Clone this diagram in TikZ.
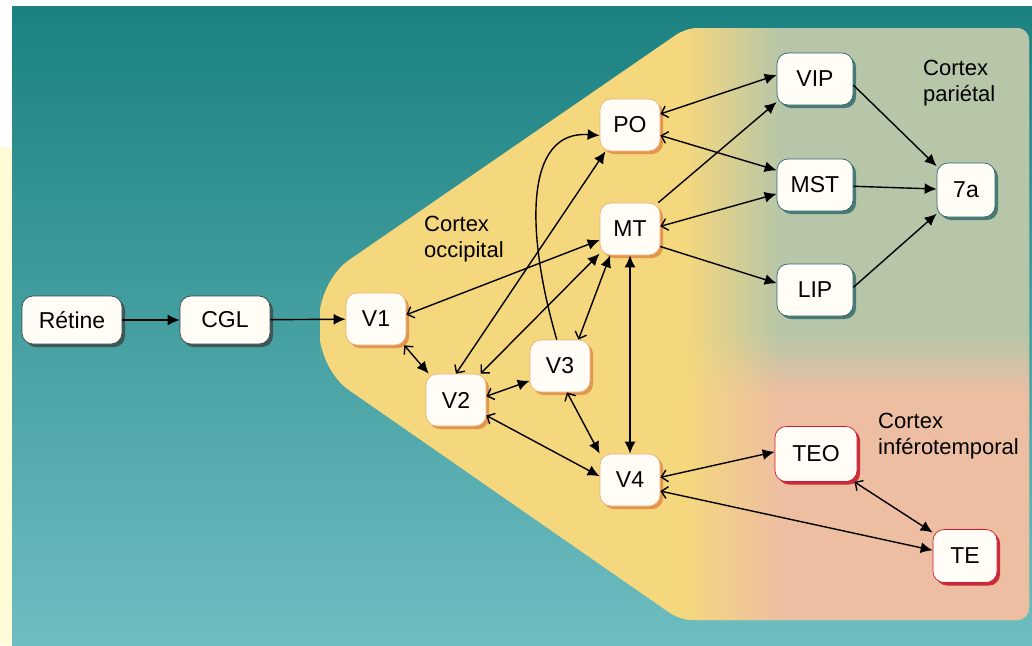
\documentclass[tikz,border=0pt]{standalone}
\usepackage{fontspec}
\setmainfont{Liberation Sans}
\usetikzlibrary{shadows, shadings, arrows.meta}

\definecolor{tealhaut}{RGB}{27,129,128}
\definecolor{tealbas}{RGB}{110,189,193}
\definecolor{bandeg}{RGB}{255,251,214}
\definecolor{zoneocc}{RGB}{245,215,126}
\definecolor{zonepar}{RGB}{183,198,168}
\definecolor{zonetemp}{RGB}{238,190,162}
\definecolor{fondnoeud}{RGB}{255,253,246}
\definecolor{ombreocc}{RGB}{226,142,70}
\definecolor{ombrepar}{RGB}{45,102,104}
\definecolor{ombretemp}{RGB}{200,28,48}
\definecolor{ombregris}{RGB}{60,70,72}

\begin{document}
\begin{tikzpicture}[
        x=1pt, y=-1pt, % coordonnées en pixels
        % --- STYLES ---
        boite/.style={
                rounded corners=11pt,
                fill=fondnoeud,
                line width=0.7pt,
                inner sep=0pt,
                minimum width=60pt,
                minimum height=52pt,
                font=\fontsize{23}{26}\selectfont
            },
        relais/.style={
                boite,
                draw=ombregris,
                minimum height=48pt,
                drop shadow={shadow xshift=3pt, shadow yshift=-3pt, fill=ombregris, opacity=0.8}
            },
        aire/.style={
                boite,
                draw=ombreocc!70,
                drop shadow={shadow xshift=3pt, shadow yshift=-3pt, fill=ombreocc, opacity=0.9}
            },
        parie/.style={
                boite,
                draw=ombrepar,
                minimum width=76pt,
                drop shadow={shadow xshift=3pt, shadow yshift=-3pt, fill=ombrepar, opacity=0.8}
            },
        tempo/.style={
                boite,
                draw=ombretemp,
                drop shadow={shadow xshift=3pt, shadow yshift=-3pt, fill=ombretemp, opacity=0.9}
            },
        fleche/.style={
                -{Latex[length=12pt, width=11pt]},
                line width=1.4pt
            },
        bidir/.style={
                {Straight Barb[length=6pt, width=12pt]}-{Latex[length=12pt, width=11pt]},
                line width=1.4pt
            },
        etiquette/.style={
                align=left,
                anchor=north west,
                inner sep=0pt,
                font=\fontsize{22}{26}\selectfont
            }
    ]

    \useasboundingbox (0,0) rectangle (1032,645);

    % 1. Le fond
    \fill[white] (0,0) rectangle (1032,645);
    \fill[bandeg] (0,147) rectangle (12,645);
    \shade[top color=tealhaut, bottom color=tealbas] (12,6) rectangle (1032,645);

    % Zone corticale (occipital, pariétal, inférotemporal)
    \begin{scope}
        \clip (320,325) [rounded corners=35pt] -- (320,280) [rounded corners=12pt]
        -- (686,28) -- (1029,28) -- (1029,620) -- (680,620) [rounded corners=35pt] -- (320,370) -- cycle;
        \fill[zoneocc] (300,0) rectangle (1032,645);
        \shade[left color=zoneocc, right color=zonepar] (685,0) rectangle (781,336);
        \fill[zonepar] (780,0) rectangle (1032,336);
        \shade[upper left=zoneocc, upper right=zonepar, lower left=zoneocc, lower right=zonetemp]
        (685,335) rectangle (781,396);
        \shade[top color=zonepar, bottom color=zonetemp] (780,335) rectangle (1032,396);
        \shade[left color=zoneocc, right color=zonetemp] (685,395) rectangle (781,645);
        \fill[zonetemp] (780,395) rectangle (1032,645);
    \end{scope}

    % 2. Les aires
    \node[relais, minimum width=100pt] (retine) at (72,320) {Rétine};
    \node[relais, minimum width=90pt] (cgl) at (225,320) {CGL};
    \node[aire] (v1) at (376,319) {V1};
    \node[aire] (v2) at (456,400) {V2};
    \node[aire] (v3) at (560,366) {V3};
    \node[aire] (v4) at (630,480) {V4};
    \node[aire] (mt) at (630,229) {MT};
    \node[aire] (po) at (630,125) {PO};
    \node[parie] (vip) at (815,79) {VIP};
    \node[parie] (mst) at (815,185) {MST};
    \node[parie] (lip) at (815,290) {LIP};
    \node[parie, minimum width=58pt, minimum height=54pt] (a7) at (966,190) {7a};
    \node[tempo, minimum width=82pt, minimum height=55pt] (teo) at (816,454) {TEO};
    \node[tempo, minimum width=64pt, minimum height=53pt] (te) at (965,556) {TE};

    % 3. Les étiquettes
    \node[etiquette] (occ) at (424,216) {Cortex\\occipital};
    \node[etiquette] (par) at (923,60) {Cortex\\pariétal};
    \node[etiquette] (inf) at (878,413) {Cortex\\inférotemporal};

    % 4. Les connexions
    \draw[fleche] (retine) -- (cgl);
    \draw[fleche] (cgl) -- (v1);
    \draw[bidir] (v1.317) -- (v2.136);
    \draw[bidir] (v1.8) -- (mt.200);
    \draw[bidir] (v2.north) -- (po.227);
    \draw[bidir] (v2.47) -- (mt.219);
    \draw[bidir] (v3.55) -- (mt.233);
    \draw[fleche] (v3.97) .. controls (525,230) and (525,130) .. (po.199);
    \draw[bidir] (v2.7) -- (v3.206);
    \draw[bidir] (v2.333) -- (v4.173);
    \draw[bidir] (v3.285) -- (v4.139);
    \draw[{Latex[length=12pt, width=11pt]}-{Latex[length=12pt, width=11pt]}, line width=1.4pt] (mt) -- (v4);

    % voie dorsale
    \draw[bidir] (po.20) -- (vip.174);
    \draw[bidir] (po.341) -- (mst.159);
    \draw[fleche] (mt.43) -- (vip.211);
    \draw[bidir] (mt.5) -- (mst.193);
    \draw[fleche] (mt.330) -- (lip.170);
    \draw[fleche] (vip.351) -- (a7.141);
    \draw[fleche] (mst) -- (a7);
    \draw[fleche] (lip.4) -- (a7.219);

    % voie ventrale
    \draw[bidir] (v4.5) -- (teo.177);
    \draw[bidir] (v4.340) -- (te.170);
    \draw[bidir] (teo.324) -- (te.144);

\end{tikzpicture}
\end{document}
